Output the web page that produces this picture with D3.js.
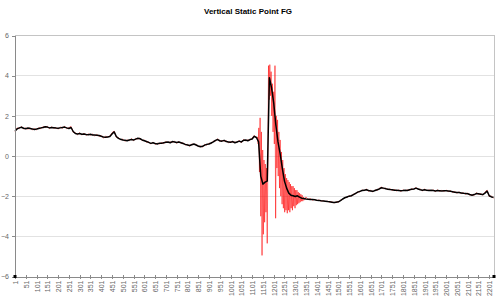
<!DOCTYPE html>
<html lang="en">
<head>
<meta charset="utf-8">
<style>
    body { margin: 0; background: #fff; }
    text { font-family: Arial, "Liberation Sans", sans-serif; }
    .title { font-size: 8px; font-weight: bold; fill: #000; }
    .axis text { font-size: 7px; fill: #666; }
    .axis path, .axis line { stroke: #8a8a8a; shape-rendering: crispEdges; }
    .grid line { stroke: #e2e2e2; shape-rendering: crispEdges; }
    .frame { stroke: #c4c4c4; fill: none; shape-rendering: crispEdges; }
</style>
<script src="https://cdn.jsdelivr.net/npm/d3@7/dist/d3.min.js"></script>
</head>
<body>
<svg id="chart" width="500" height="301"></svg>
<script>
    // category count and tick labels
    var nCats = 2223;
    var xTickLabels = [1, 51, 101, 151, 201, 251, 301, 351, 401, 451, 501, 551, 601, 651, 701, 751,
        801, 851, 901, 951, 1001, 1051, 1101, 1151, 1201, 1251, 1301, 1351, 1401, 1451, 1501, 1551,
        1601, 1651, 1701, 1751, 1801, 1851, 1901, 1951, 2001, 2051, 2101, 2151, 2201];
    var yTicks = [-6, -4, -2, 0, 2, 4, 6];

    // smoothed series (black), one value every 10 points starting at 1
    var blackStart = 1, blackStep = 10;
    var blackVals = [
        1.25, 1.35, 1.40, 1.43, 1.38, 1.36, 1.39, 1.37, 1.35, 1.32,
        1.34, 1.37, 1.40, 1.42, 1.46, 1.44, 1.40, 1.42, 1.41, 1.39,
        1.38, 1.40, 1.42, 1.44, 1.40, 1.37, 1.42, 1.22, 1.12, 1.10,
        1.12, 1.08, 1.10, 1.07, 1.06, 1.08, 1.05, 1.04, 1.03, 1.02,
        0.98, 0.95, 0.93, 0.95, 0.97, 1.10, 1.20, 0.97, 0.88, 0.83,
        0.80, 0.78, 0.76, 0.80, 0.82, 0.80, 0.84, 0.88, 0.86, 0.80,
        0.76, 0.72, 0.68, 0.63, 0.66, 0.62, 0.60, 0.64, 0.63, 0.66,
        0.68, 0.70, 0.66, 0.72, 0.70, 0.67, 0.70, 0.66, 0.62, 0.58,
        0.55, 0.52, 0.56, 0.60, 0.55, 0.50, 0.46, 0.48, 0.54, 0.58,
        0.60, 0.65, 0.70, 0.78, 0.82, 0.76, 0.74, 0.78, 0.72, 0.70,
        0.68, 0.72, 0.66, 0.70, 0.74, 0.70, 0.78, 0.80, 0.76, 0.82,
        0.85, 0.98, 0.92, 0.70, -1.00, -1.40, -1.30, -1.25, 3.90, 3.40,
        2.65, 1.55, 0.70, 0.10, -0.60, -1.25, -1.60, -1.85, -1.95, -1.98,
        -2.02, -1.98, -2.05, -2.10, -2.12, -2.14, -2.15, -2.16, -2.17, -2.18,
        -2.20, -2.21, -2.23, -2.24, -2.25, -2.27, -2.28, -2.30, -2.32, -2.30,
        -2.28, -2.22, -2.14, -2.08, -2.04, -2.00, -1.98, -1.92, -1.86, -1.80,
        -1.76, -1.72, -1.70, -1.68, -1.72, -1.74, -1.76, -1.72, -1.68, -1.64,
        -1.58, -1.60, -1.63, -1.65, -1.67, -1.68, -1.70, -1.71, -1.72, -1.73,
        -1.72, -1.70, -1.72, -1.68, -1.66, -1.64, -1.60, -1.64, -1.68, -1.70,
        -1.68, -1.70, -1.72, -1.70, -1.72, -1.74, -1.72, -1.73, -1.74, -1.73,
        -1.73, -1.74, -1.76, -1.78, -1.80, -1.82, -1.82, -1.84, -1.86, -1.87,
        -1.88, -1.92, -1.95, -1.92, -1.87, -1.88, -1.90, -1.92, -1.85, -1.75,
        -1.98, -2.04, -2.06
    ];

    // raw series (red): calm part before the event, every 10 points from 1
    var redBeforeStart = 1, redStep = 10;
    var redBeforeVals = [
        1.20, 1.40, 1.36, 1.47, 1.34, 1.40, 1.33, 1.41, 1.30, 1.36,
        1.30, 1.41, 1.36, 1.46, 1.42, 1.48, 1.36, 1.45, 1.38, 1.42,
        1.34, 1.44, 1.38, 1.48, 1.36, 1.41, 1.47, 1.18, 1.16, 1.06,
        1.16, 1.04, 1.14, 1.03, 1.10, 1.04, 1.09, 1.00, 1.07, 0.98,
        1.02, 0.89, 0.98, 0.94, 0.99, 1.16, 1.24, 0.93, 0.92, 0.80,
        0.84, 0.74, 0.80, 0.76, 0.86, 0.76, 0.88, 0.84, 0.90, 0.76,
        0.80, 0.68, 0.71, 0.59, 0.70, 0.58, 0.64, 0.60, 0.67, 0.62,
        0.72, 0.66, 0.70, 0.68, 0.74, 0.63, 0.73, 0.62, 0.66, 0.54,
        0.59, 0.48, 0.60, 0.56, 0.59, 0.46, 0.50, 0.44, 0.58, 0.54,
        0.64, 0.61, 0.74, 0.74, 0.86, 0.72, 0.78, 0.74, 0.76, 0.66,
        0.72, 0.68, 0.70, 0.66, 0.78, 0.66, 0.82, 0.76, 0.80, 0.78,
        0.90, 1.02, 0.88
    ];

    // raw series (red): the disturbance, every 3 points from 1126
    var burstStart = 1126, burstStep = 3;
    var burstVals = [
        0.95, 0.60, 1.40, -0.80, 1.90, -3.00, 1.20, -4.95, 0.30, -3.90,
        -0.20, -3.30, -0.40, -2.80, -0.60, -4.35, -0.20, 4.50, 2.80, 4.55,
        3.00, 4.20, 2.00, 3.60, 1.20, 3.20, 0.60, 4.50, -3.10, 2.00,
        -0.60, 1.80, -1.00, 1.20, -1.60, 0.80, -2.00, 0.20, -2.40, -0.20,
        -2.60, -0.60, -2.80, -0.90, -2.70, -1.10, -2.85, -1.20, -2.70, -1.30,
        -2.80, -1.40, -2.60, -1.50, -2.70, -1.50, -2.50, -1.60, -2.60, -1.70,
        -2.45, -1.70, -2.40, -1.80, -2.35, -1.85, -2.30, -1.90, -2.25, -1.95,
        -2.25, -2.05, -2.20, -2.10
    ];

    // raw series (red): calm part after the event, every 10 points from 1351
    var redAfterStart = 1351;
    var redAfterVals = [
        -2.04, -2.16, -2.12, -2.20, -2.16,
        -2.22, -2.19, -2.25, -2.22, -2.27, -2.25, -2.30, -2.28, -2.34, -2.28,
        -2.30, -2.20, -2.16, -2.06, -2.07, -1.98, -2.00, -1.90, -1.88, -1.78,
        -1.79, -1.69, -1.73, -1.65, -1.75, -1.71, -1.79, -1.69, -1.71, -1.61,
        -1.55, -1.63, -1.60, -1.68, -1.64, -1.71, -1.67, -1.74, -1.69, -1.76,
        -1.69, -1.73, -1.69, -1.71, -1.63, -1.67, -1.56, -1.67, -1.65, -1.73,
        -1.65, -1.73, -1.69, -1.73, -1.69, -1.77, -1.69, -1.76, -1.71, -1.76,
        -1.70, -1.77, -1.73, -1.81, -1.77, -1.85, -1.79, -1.87, -1.83, -1.90,
        -1.85, -1.95, -1.92, -1.96, -1.83, -1.91, -1.87, -1.95, -1.80, -1.70,
        -2.02, -2.00, -2.10
    ];

    // little black markers sitting on the bottom axis ends
    var endMarkCats = [1, 2223];
    var endMarkVal = -6;

    var svg = d3.select("#chart");
    var plotLeft = 15, plotRight = 494, plotTop = 35.5, plotBottom = 276.5;

    var x = d3.scaleLinear().domain([1, nCats]).range([plotLeft, plotRight]);
    var y = d3.scaleLinear().domain([-6, 6]).range([plotBottom, plotTop]);

    svg.append("text")
       .attr("class", "title")
       .attr("x", 248)
       .attr("y", 14)
       .attr("text-anchor", "middle")
       .text("Vertical Static Point FG");

    // gridlines
    svg.append("g")
       .attr("class", "grid")
       .selectAll("line")
       .data(yTicks.filter(function(d) { return d > -6 && d < 6; }))
       .enter().append("line")
       .attr("x1", plotLeft).attr("x2", plotRight)
       .attr("y1", function(d) { return y(d); })
       .attr("y2", function(d) { return y(d); });

    // top and right frame
    svg.append("path")
       .attr("class", "frame")
       .attr("d", "M" + plotLeft + "," + y(6) + "H" + plotRight + "V" + y(-6));

    // build the point lists
    var blackPts = blackVals.map(function(v, k) { return [blackStart + k * blackStep, v]; });
    var redPts = redBeforeVals.map(function(v, k) { return [redBeforeStart + k * redStep, v]; })
        .concat(burstVals.map(function(v, k) { return [burstStart + k * burstStep, v]; }))
        .concat(redAfterVals.map(function(v, k) { return [redAfterStart + k * redStep, v]; }));

    var line = d3.line()
        .x(function(d) { return x(d[0]); })
        .y(function(d) { return y(d[1]); });

    svg.append("path")
       .datum(redPts)
       .attr("fill", "none")
       .attr("stroke", "#ff0000")
       .attr("stroke-width", 0.55)
       .attr("d", line);

    svg.append("path")
       .datum(blackPts)
       .attr("fill", "none")
       .attr("stroke", "#000")
       .attr("stroke-width", 1.5)
       .attr("stroke-linejoin", "round")
       .attr("d", line);

    // y axis
    svg.append("g")
       .attr("class", "axis")
       .attr("transform", "translate(" + plotLeft + ",0)")
       .call(d3.axisLeft(y).tickValues(yTicks).tickSize(3).tickPadding(3).tickSizeOuter(0));

    // x axis
    var xAxis = svg.append("g")
       .attr("class", "axis")
       .attr("transform", "translate(0," + plotBottom + ")")
       .call(d3.axisBottom(x).tickValues(xTickLabels).tickSize(2).tickSizeOuter(0)
             .tickFormat(d3.format("d")));
    xAxis.selectAll(".tick line").attr("y1", -2).attr("y2", 2);
    xAxis.selectAll(".tick text")
         .attr("text-anchor", "end")
         .attr("transform", "rotate(-90)")
         .attr("x", -4)
         .attr("y", 0)
         .attr("dy", "0.35em");

    svg.append("g")
       .selectAll("rect")
       .data(endMarkCats)
       .enter().append("rect")
       .attr("x", function(d) { return x(d) - 1.5; })
       .attr("y", y(endMarkVal) - 1.5)
       .attr("width", 3)
       .attr("height", 3)
       .attr("fill", "#000");
</script>
</body>
</html>
